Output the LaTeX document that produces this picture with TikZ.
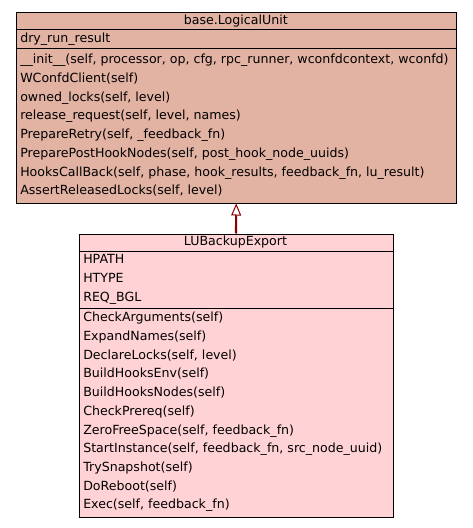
\documentclass[tikz,border=0pt]{standalone}
\usepackage{fontspec}
\setmainfont{DejaVu Sans}
\usetikzlibrary{arrows.meta}
\definecolor{basefill}{HTML}{E2B2A3}
\definecolor{lufill}{HTML}{FFD3D6}
\definecolor{inherit}{HTML}{8B0000}
\begin{document}
\begin{tikzpicture}[x=0.75pt,y=-0.75pt,
  classbox/.style={draw=black, line width=0.75pt, rectangle, inner sep=0pt, anchor=north west},
  member/.style={anchor=west, inner sep=0pt, text height=0.72em, text depth=0.22em, font=\fontsize{9.45pt}{11pt}\selectfont},
  title/.style={inner sep=0pt, text height=0.72em, text depth=0.22em, font=\fontsize{9.45pt}{11pt}\selectfont},
  sep/.style={line width=0.75pt},
  inheritance/.style={draw=inherit, line width=1.6pt,
    -{Triangle[open, length=9pt, width=7.5pt, line width=0.75pt, fill=white]}}]
\useasboundingbox (0,0) rectangle (472,528);

% base class
\node[classbox, fill=basefill, minimum width=440.5*0.75pt, minimum height=190*0.75pt] (base) at (15.5,12.5) {};
\node[title] (basetitle) at (235.75,21) {base.LogicalUnit};
\draw[sep] (15.5,29.5) -- (456,29.5);
\node[member] (baseattr) at (20,39.5) {dry\_run\_result};
\draw[sep] (15.5,48.5) -- (456,48.5);
\foreach \t [count=\i] in {
  {\_\_init\_\_(self, processor, op, cfg, rpc\_runner, wconfdcontext, wconfd)},
  {WConfdClient(self)},
  {owned\_locks(self, level)},
  {release\_request(self, level, names)},
  {PrepareRetry(self, \_feedback\_fn)},
  {PreparePostHookNodes(self, post\_hook\_node\_uuids)},
  {HooksCallBack(self, phase, hook\_results, feedback\_fn, lu\_result)},
  {AssertReleasedLocks(self, level)}}
  \node[member] (basem\i) at (20,{60.5+18.7*(\i-1)}) {\t};

% derived class
\node[classbox, fill=lufill, minimum width=314*0.75pt, minimum height=283.5*0.75pt] (lu) at (78.5,233.5) {};
\node[title] (lutitle) at (235.5,242.5) {LUBackupExport};
\draw[sep] (78.5,251) -- (392.5,251);
\foreach \t [count=\i] in {HPATH, HTYPE, {REQ\_BGL}}
  \node[member] (lua\i) at (83,{260.5+18.7*(\i-1)}) {\t};
\draw[sep] (78.5,308.5) -- (392.5,308.5);
\foreach \t [count=\i] in {
  {CheckArguments(self)},
  {ExpandNames(self)},
  {DeclareLocks(self, level)},
  {BuildHooksEnv(self)},
  {BuildHooksNodes(self)},
  {CheckPrereq(self)},
  {ZeroFreeSpace(self, feedback\_fn)},
  {StartInstance(self, feedback\_fn, src\_node\_uuid)},
  {TrySnapshot(self)},
  {DoReboot(self)},
  {Exec(self, feedback\_fn)}}
  \node[member] (lum\i) at (83,{318.5+18.7*(\i-1)}) {\t};

% inheritance
\draw[inheritance] (lu.north) -- (base.south);
\end{tikzpicture}
\end{document}
